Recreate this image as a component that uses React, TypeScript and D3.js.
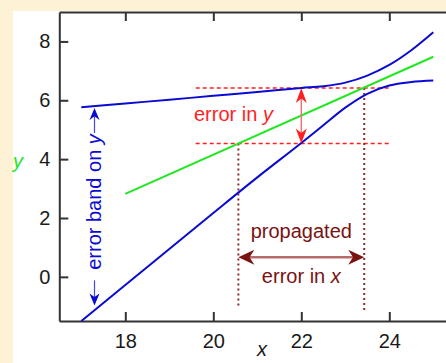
import React, { useEffect, useRef } from 'react';
import * as d3 from 'd3';

// values
const xTicks = [18, 20, 22, 24];
const yTicks = [0, 2, 4, 6, 8];
const upperBand: [number, number][] = [
    [17, 5.76], [18, 5.89], [19, 6.02], [20, 6.15], [21, 6.28], [22, 6.42],
    [22.5, 6.48], [23, 6.60], [23.5, 6.84], [24, 7.20], [24.5, 7.70], [25, 8.31],
];
const lowerBand: [number, number][] = [
    [17, -1.5], [18, -0.28], [19, 0.95], [20, 2.17], [21, 3.38], [22, 4.55],
    [22.5, 5.15], [23, 5.75], [23.5, 6.22], [24, 6.50], [24.5, 6.62], [25, 6.67],
];
const fitLine: [number, number][] = [[18, 2.82], [25, 7.48]];
const yErrorLevels = [4.53, 6.42];   // lower / upper level of "error in y"
const yErrorAt = 22;
const dashedSpan = [19.6, 24.05];
const xErrorLevels = [20.57, 23.43]; // propagated error in x
const dottedBottom = [-0.97, -1.14];
const xArrowY = 0.67;

const W = 446;
const H = 363;
const FONT = '"Liberation Sans", Arial, sans-serif';
const BLUE = '#0a0ad2';
const GREEN = '#22e622';
const RED = '#ff1f1f';
const MAROON = '#7a1212';

const x = d3.scaleLinear().domain([16.5, 25.5]).range([59.3, 455.3]);
const y = d3.scaleLinear().domain([-1.5, 9]).range([321, 12]);

// stealth style arrow head, (dx,dy) = direction it points
function head(tx: number, ty: number, dx: number, dy: number, len: number, half: number) {
    const bx = tx - dx * len, by = ty - dy * len;
    const px = -dy, py = dx;
    const nx = tx - dx * len * 0.7, ny = ty - dy * len * 0.7;
    return `M${tx},${ty}L${bx + px * half},${by + py * half}L${nx},${ny}L${bx - px * half},${by - py * half}Z`;
}

export default function App() {
    const leftRef = useRef<SVGGElement>(null);
    const topRef = useRef<SVGGElement>(null);
    const bottomRef = useRef<SVGGElement>(null);

    useEffect(() => {
        const style = (g: d3.Selection<SVGGElement, unknown, null, undefined>) => {
            g.attr('font-size', 20).attr('font-family', FONT);
            g.selectAll('path,line').attr('stroke', '#333').attr('stroke-width', 2);
            g.selectAll('text').attr('fill', '#1a1a1a');
        };
        d3.select(leftRef.current!)
            .call(d3.axisLeft(y).tickValues(yTicks).tickSizeInner(-9).tickSizeOuter(0).tickPadding(9).tickFormat(d3.format('d')))
            .call(style);
        d3.select(topRef.current!)
            .call(d3.axisTop(x).tickValues(xTicks).tickSizeInner(-9).tickSizeOuter(0).tickFormat(() => ''))
            .call(style);
        d3.select(bottomRef.current!)
            .call(d3.axisBottom(x).tickValues(xTicks).tickSizeInner(-9).tickSizeOuter(0).tickPadding(13).tickFormat(d3.format('d')))
            .call(style);
    }, []);

    const line = d3.line<[number, number]>().x(d => x(d[0])).y(d => y(d[1])).curve(d3.curveMonotoneX);

    const xr = x(yErrorAt);
    const [yLo, yHi] = yErrorLevels.map(v => y(v));
    const [xL, xR] = xErrorLevels.map(v => x(v));
    const ya = y(xArrowY);
    const bx = x(17.3);

    return (
        <svg width={W} height={H} style={{ position: 'absolute', left: 0, top: 0 }}>
            <rect width={W} height={H} fill="#fdf2d5" />
            <rect x={13} y={11} width={W - 13} height={H - 11} fill="#fff" />

            <g ref={leftRef} transform={`translate(${x(16.5)},0)`} />
            <g ref={topRef} transform={`translate(0,${y(9)})`} />
            <g ref={bottomRef} transform={`translate(0,${y(-1.5)})`} />

            <text x={13} y={168} fill={GREEN} fontFamily={FONT} fontSize={20} fontStyle="italic">y</text>
            <text x={262} y={356} fill="#1a1a1a" fontFamily={FONT} fontSize={20} fontStyle="italic" textAnchor="middle">x</text>

            {/* dashed red levels */}
            {yErrorLevels.map((v, i) => (
                <line key={i} x1={x(dashedSpan[0])} x2={x(dashedSpan[1])} y1={y(v)} y2={y(v)}
                    stroke={RED} strokeWidth={1.5} strokeDasharray="4 3" />
            ))}
            {/* dotted maroon verticals */}
            {xErrorLevels.map((v, i) => (
                <line key={i} x1={x(v)} x2={x(v)} y1={y(yErrorLevels[i])} y2={y(dottedBottom[i])}
                    stroke="#8c2a2a" strokeWidth={2} strokeDasharray="2 3" />
            ))}

            <path d={line(fitLine)!} fill="none" stroke={GREEN} strokeWidth={2} />
            <path d={line(upperBand)!} fill="none" stroke={BLUE} strokeWidth={2} />
            <path d={line(lowerBand)!} fill="none" stroke={BLUE} strokeWidth={2} />

            {/* error in y arrow */}
            <line x1={xr} x2={xr} y1={yHi + 10} y2={yLo - 10} stroke="#f47474" strokeWidth={1.5} />
            <path d={head(xr, yHi, 0, -1, 15, 5.5)} fill={RED} />
            <path d={head(xr, yLo, 0, 1, 15, 5.5)} fill={RED} />
            <text x={194} y={121} fill={RED} fontFamily={FONT} fontSize={20}>
                error in <tspan fontStyle="italic">y</tspan>
            </text>

            {/* propagated error in x arrow */}
            <line x1={xL + 10} x2={xR - 10} y1={ya} y2={ya} stroke="#b76a6a" strokeWidth={2.5} />
            <path d={head(xL, ya, -1, 0, 16, 7.5)} fill={MAROON} />
            <path d={head(xR, ya, 1, 0, 16, 7.5)} fill={MAROON} />
            <text x={(xL + xR) / 2} y={238} fill={MAROON} fontFamily={FONT} fontSize={20} textAnchor="middle">propagated</text>
            <text x={(xL + xR) / 2} y={283} fill={MAROON} fontFamily={FONT} fontSize={20} textAnchor="middle">
                error in <tspan fontStyle="italic">x</tspan>
            </text>

            {/* error band on y label */}
            <line x1={bx} x2={bx} y1={y(5.74) + 8} y2={y(4.89)} stroke="#4646e0" strokeWidth={1.2} />
            <path d={head(bx, y(5.74), 0, -1, 12, 5)} fill={BLUE} />
            <line x1={bx} x2={bx} y1={y(-0.12)} y2={y(-0.97) - 8} stroke="#4646e0" strokeWidth={1.2} />
            <path d={head(bx, y(-0.97), 0, 1, 12, 5)} fill={BLUE} />
            <text transform={`translate(101,202) rotate(-90)`} fill={BLUE} fontFamily={FONT} fontSize={20} textAnchor="middle">
                error band on <tspan fontStyle="italic">y</tspan>
            </text>
        </svg>
    );
}
